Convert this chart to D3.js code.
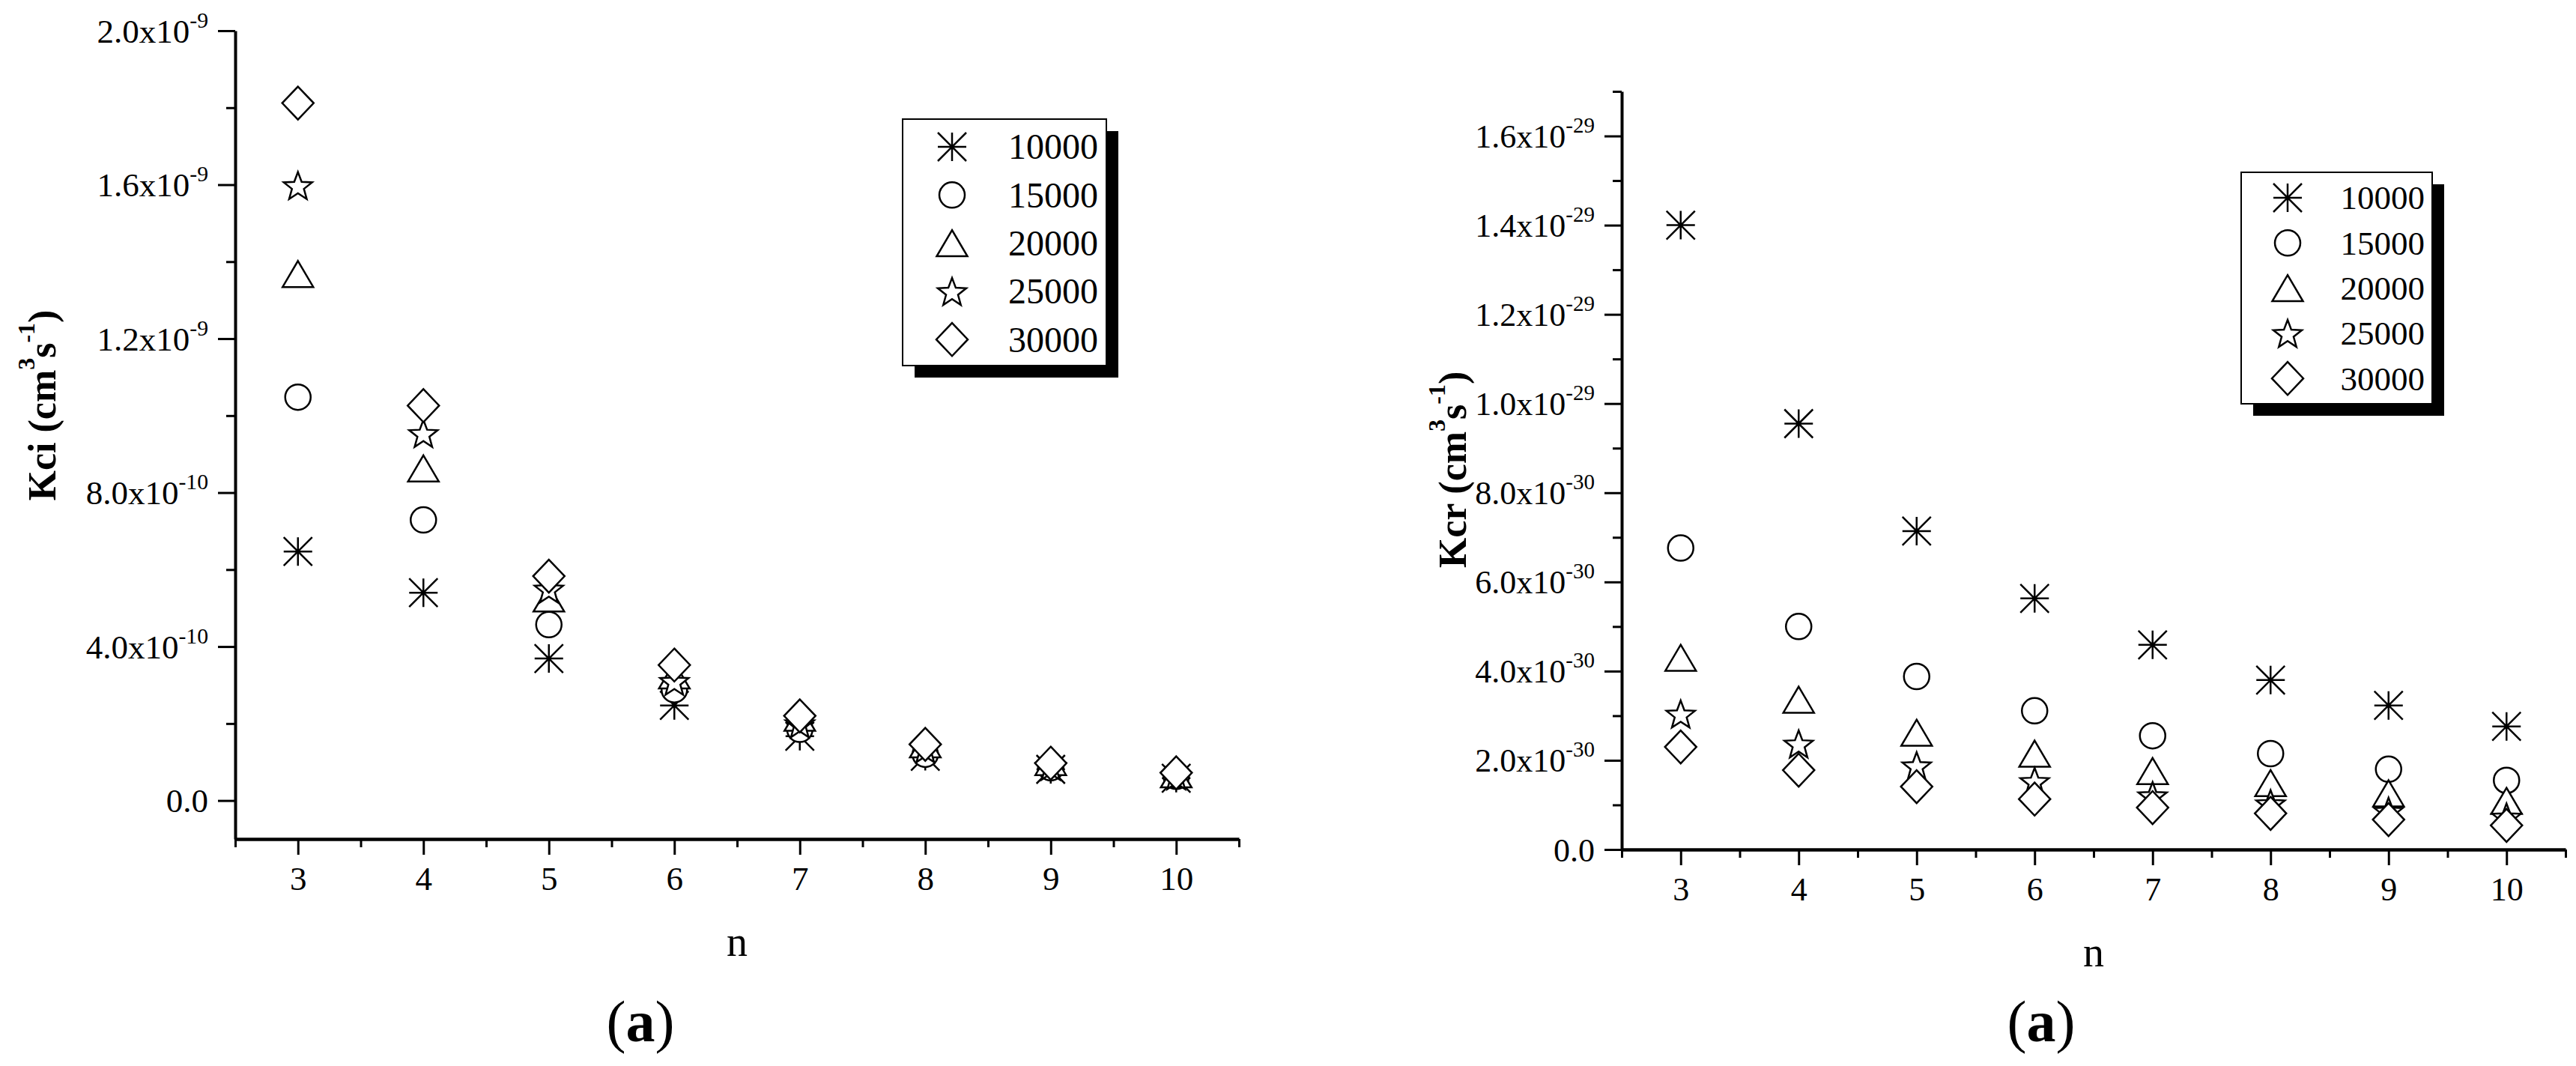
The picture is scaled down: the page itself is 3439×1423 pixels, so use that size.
<!DOCTYPE html>
<html>
<head>
<meta charset="utf-8">
<script src="https://cdn.jsdelivr.net/npm/d3@7"></script>
<style>
  html, body { margin: 0; padding: 0; background: #fff; }
  svg { display: block; }
</style>
</head>
<body>
<div id="app"></div>
<script>
// ---- data ----
const nValues = [3, 4, 5, 6, 7, 8, 9, 10];
const seriesNames = ['10000', '15000', '20000', '25000', '30000'];

// Kci (cm3 s-1), panel on the left
const kci10000 = [6.47e-10, 5.40e-10, 3.69e-10, 2.47e-10, 1.67e-10, 1.15e-10, 0.81e-10, 0.58e-10];
const kci15000 = [1.048e-9, 7.29e-10, 4.57e-10, 2.88e-10, 1.85e-10, 1.20e-10, 0.85e-10, 0.63e-10];
const kci20000 = [1.368e-9, 8.63e-10, 5.25e-10, 3.25e-10, 2.15e-10, 1.46e-10, 1.00e-10, 0.68e-10];
const kci25000 = [1.598e-9, 9.54e-10, 5.50e-10, 3.10e-10, 2.00e-10, 1.35e-10, 0.90e-10, 0.65e-10];
const kci30000 = [1.812e-9, 1.026e-9, 5.83e-10, 3.52e-10, 2.20e-10, 1.46e-10, 0.97e-10, 0.72e-10];

// Kcr (cm3 s-1), panel on the right
const kcr10000 = [1.40e-29, 9.55e-30, 7.14e-30, 5.63e-30, 4.59e-30, 3.80e-30, 3.23e-30, 2.76e-30];
const kcr15000 = [6.76e-30, 5.00e-30, 3.88e-30, 3.11e-30, 2.55e-30, 2.15e-30, 1.80e-30, 1.55e-30];
const kcr20000 = [4.30e-30, 3.36e-30, 2.62e-30, 2.15e-30, 1.76e-30, 1.49e-30, 1.26e-30, 1.09e-30];
const kcr25000 = [3.04e-30, 2.37e-30, 1.88e-30, 1.53e-30, 1.21e-30, 1.03e-30, 0.86e-30, 0.73e-30];
const kcr30000 = [2.30e-30, 1.78e-30, 1.41e-30, 1.13e-30, 0.94e-30, 0.81e-30, 0.67e-30, 0.54e-30];

// axis ticks
const xMajorTicks = [3, 4, 5, 6, 7, 8, 9, 10];
const xMinorTicks = [2.5, 3.5, 4.5, 5.5, 6.5, 7.5, 8.5, 9.5, 10.5];

const kciMajorTicks = [0, 4e-10, 8e-10, 1.2e-9, 1.6e-9, 2.0e-9];
const kciMinorTicks = [2e-10, 6e-10, 1.0e-9, 1.4e-9, 1.8e-9];
const kciTickMant = ['0.0', '4.0', '8.0', '1.2', '1.6', '2.0'];
const kciTickExp = ['', '-10', '-10', '-9', '-9', '-9'];

const kcrMajorTicks = [0, 2e-30, 4e-30, 6e-30, 8e-30, 1.0e-29, 1.2e-29, 1.4e-29, 1.6e-29];
const kcrMinorTicks = [1e-30, 3e-30, 5e-30, 7e-30, 9e-30, 1.1e-29, 1.3e-29, 1.5e-29, 1.7e-29];
const kcrTickMant = ['0.0', '2.0', '4.0', '6.0', '8.0', '1.0', '1.2', '1.4', '1.6'];
const kcrTickExp = ['', '-30', '-30', '-30', '-30', '-29', '-29', '-29', '-29'];

const FONT = '"Liberation Serif", "Times New Roman", Times, serif';

// open symbols, "size" is used as half width
const symAsterisk = {
  draw(ctx, h) {
    ctx.moveTo(0, -h); ctx.lineTo(0, h);
    ctx.moveTo(-h, 0); ctx.lineTo(h, 0);
    ctx.moveTo(-h, -h); ctx.lineTo(h, h);
    ctx.moveTo(-h, h); ctx.lineTo(h, -h);
  }
};
const symCircle = {
  draw(ctx, h) {
    ctx.moveTo(h, 0);
    ctx.arc(0, 0, h, 0, 2 * Math.PI);
    ctx.closePath();
  }
};
const symTriangle = {
  draw(ctx, h) {
    const hh = h * 0.85;
    ctx.moveTo(0, -hh);
    ctx.lineTo(h, hh);
    ctx.lineTo(-h, hh);
    ctx.closePath();
  }
};
const symStar = {
  draw(ctx, h) {
    const R = h * 1.05, r = R * 0.42;
    for (let i = 0; i < 10; i++) {
      const rad = i % 2 === 0 ? R : r;
      const a = -Math.PI / 2 + i * Math.PI / 5;
      const px = rad * Math.cos(a), py = rad * Math.sin(a) + R * 0.1;
      if (i === 0) ctx.moveTo(px, py); else ctx.lineTo(px, py);
    }
    ctx.closePath();
  }
};
const symDiamond = {
  draw(ctx, h) {
    ctx.moveTo(0, -h * 1.05);
    ctx.lineTo(h, 0);
    ctx.lineTo(0, h * 1.05);
    ctx.lineTo(-h, 0);
    ctx.closePath();
  }
};
const symbolTypes = [symAsterisk, symCircle, symTriangle, symStar, symDiamond];
const symbolHalf = [19, 17, 20.5, 19, 21];

const svg = d3.select('#app')
  .append('svg')
  .attr('width', 3439)
  .attr('height', 1423)
  .attr('viewBox', '0 0 3439 1423');

svg.append('rect').attr('width', 3439).attr('height', 1423).attr('fill', '#fff');

function drawPanel(p) {
  const g = svg.append('g');

  const x = d3.scaleLinear().domain([2.5, 10.5]).range([p.left, p.right]);
  const y = d3.scaleLinear().domain(p.yDomain).range([p.bottom, p.top]);

  // x axis: minor ticks, then major ticks with the axis line
  const xMinorG = g.append('g').attr('transform', `translate(0,${p.bottom})`)
    .call(d3.axisBottom(x).tickValues(xMinorTicks).tickSize(11).tickSizeOuter(0).tickFormat(''));
  xMinorG.select('.domain').remove();

  const xMajorG = g.append('g').attr('transform', `translate(0,${p.bottom})`)
    .call(d3.axisBottom(x).tickValues(xMajorTicks).tickSize(21).tickSizeOuter(0).tickFormat(d3.format('d')));
  xMajorG.select('.domain').attr('stroke-width', 4.5);
  xMajorG.selectAll('.tick text')
    .attr('y', 68).attr('dy', 0)
    .attr('font-family', FONT).attr('font-size', p.tickFont).attr('fill', '#000');

  // y axis
  const yMinorG = g.append('g').attr('transform', `translate(${p.left},0)`)
    .call(d3.axisLeft(y).tickValues(p.yMinor).tickSize(12).tickSizeOuter(0).tickFormat(''));
  yMinorG.select('.domain').remove();

  const yMajorG = g.append('g').attr('transform', `translate(${p.left},0)`)
    .call(d3.axisLeft(y).tickValues(p.yMajor).tickSize(23).tickSizeOuter(0));
  yMajorG.select('.domain').attr('stroke-width', 4);

  yMajorG.selectAll('.tick text').each(function(d) {
    const i = p.yMajor.indexOf(d);
    const t = d3.select(this)
      .text(null)
      .attr('x', -36).attr('dy', 0).attr('y', 15)
      .attr('font-family', FONT).attr('font-size', p.tickFont).attr('fill', '#000');
    t.append('tspan').text(p.yMant[i] + (p.yExp[i] ? 'x10' : ''));
    if (p.yExp[i]) {
      t.append('tspan').attr('font-size', p.tickFont * 0.66).attr('dy', -20).text(p.yExp[i]);
    }
  });

  g.selectAll('.tick line').attr('stroke-width', 3);

  // axis titles
  g.append('text')
    .attr('x', (p.left + p.right) / 2).attr('y', p.bottom + 156)
    .attr('text-anchor', 'middle')
    .attr('font-family', FONT).attr('font-size', 56)
    .text('n');

  const yt = g.append('text')
    .attr('transform', `translate(${p.yTitleX},${p.yTitleY}) rotate(-90)`)
    .attr('text-anchor', 'middle')
    .attr('font-family', FONT).attr('font-size', 52).attr('font-weight', 'bold');
  yt.append('tspan').text(p.yTitle + ' (cm');
  yt.append('tspan').attr('font-size', 32).attr('dy', -28).text('3');
  yt.append('tspan').attr('dy', 28).text('s');
  yt.append('tspan').attr('font-size', 32).attr('dy', -28).text('-1');
  yt.append('tspan').attr('dy', 28).text(')');

  // panel caption
  const cap = g.append('text')
    .attr('x', p.captionX).attr('y', 1390)
    .attr('text-anchor', 'middle')
    .attr('font-family', FONT).attr('font-size', 78);
  cap.append('tspan').text('(');
  cap.append('tspan').attr('font-weight', 'bold').text('a');
  cap.append('tspan').text(')');

  // points, drawn series by series so later ones sit on top
  p.series.forEach((vals, si) => {
    const sym = d3.symbol().type(symbolTypes[si]).size(symbolHalf[si]);
    g.append('g')
      .selectAll('path')
      .data(vals.map((v, k) => ({ n: nValues[k], v })))
      .join('path')
      .attr('transform', d => `translate(${x(d.n)},${y(d.v)})`)
      .attr('d', sym)
      .attr('fill', si === 0 ? 'none' : '#fff')
      .attr('stroke', '#000')
      .attr('stroke-width', 2.5);
  });

  // legend with drop shadow
  const L = p.legend;
  const lg = g.append('g');
  lg.append('rect')
    .attr('x', L.x + 16).attr('y', L.y + 16).attr('width', L.w).attr('height', L.h)
    .attr('fill', '#000');
  lg.append('rect')
    .attr('x', L.x).attr('y', L.y).attr('width', L.w).attr('height', L.h)
    .attr('fill', '#fff').attr('stroke', '#000').attr('stroke-width', 2);

  seriesNames.forEach((name, si) => {
    const cy = L.row0 + si * L.step;
    lg.append('path')
      .attr('transform', `translate(${L.symX},${cy})`)
      .attr('d', d3.symbol().type(symbolTypes[si]).size(symbolHalf[si]))
      .attr('fill', si === 0 ? 'none' : '#fff')
      .attr('stroke', '#000')
      .attr('stroke-width', 2.5);
    lg.append('text')
      .attr('x', L.textX).attr('y', cy + L.font * 0.34)
      .attr('text-anchor', 'end')
      .attr('font-family', FONT).attr('font-size', L.font)
      .text(name);
  });
}

drawPanel({
  left: 314, right: 1654, top: 41, bottom: 1120,
  yDomain: [-1e-10, 2.0e-9],
  yMajor: kciMajorTicks, yMinor: kciMinorTicks, yMant: kciTickMant, yExp: kciTickExp,
  tickFont: 45,
  yTitle: 'Kci', yTitleX: 74, yTitleY: 541,
  captionX: 855,
  series: [kci10000, kci15000, kci20000, kci25000, kci30000],
  legend: { x: 1205, y: 159, w: 272, h: 329, symX: 1271, row0: 196, step: 64.3, textX: 1466, font: 48 }
});

drawPanel({
  left: 2165, right: 3425, top: 122, bottom: 1134,
  yDomain: [0, 1.7e-29],
  yMajor: kcrMajorTicks, yMinor: kcrMinorTicks, yMant: kcrTickMant, yExp: kcrTickExp,
  tickFont: 44,
  yTitle: 'Kcr', yTitleX: 1957, yTitleY: 627,
  captionX: 2725,
  series: [kcr10000, kcr15000, kcr20000, kcr25000, kcr30000],
  legend: { x: 2992, y: 230, w: 255, h: 309, symX: 3054, row0: 264, step: 60.3, textX: 3237, font: 45 }
});
</script>
</body>
</html>
